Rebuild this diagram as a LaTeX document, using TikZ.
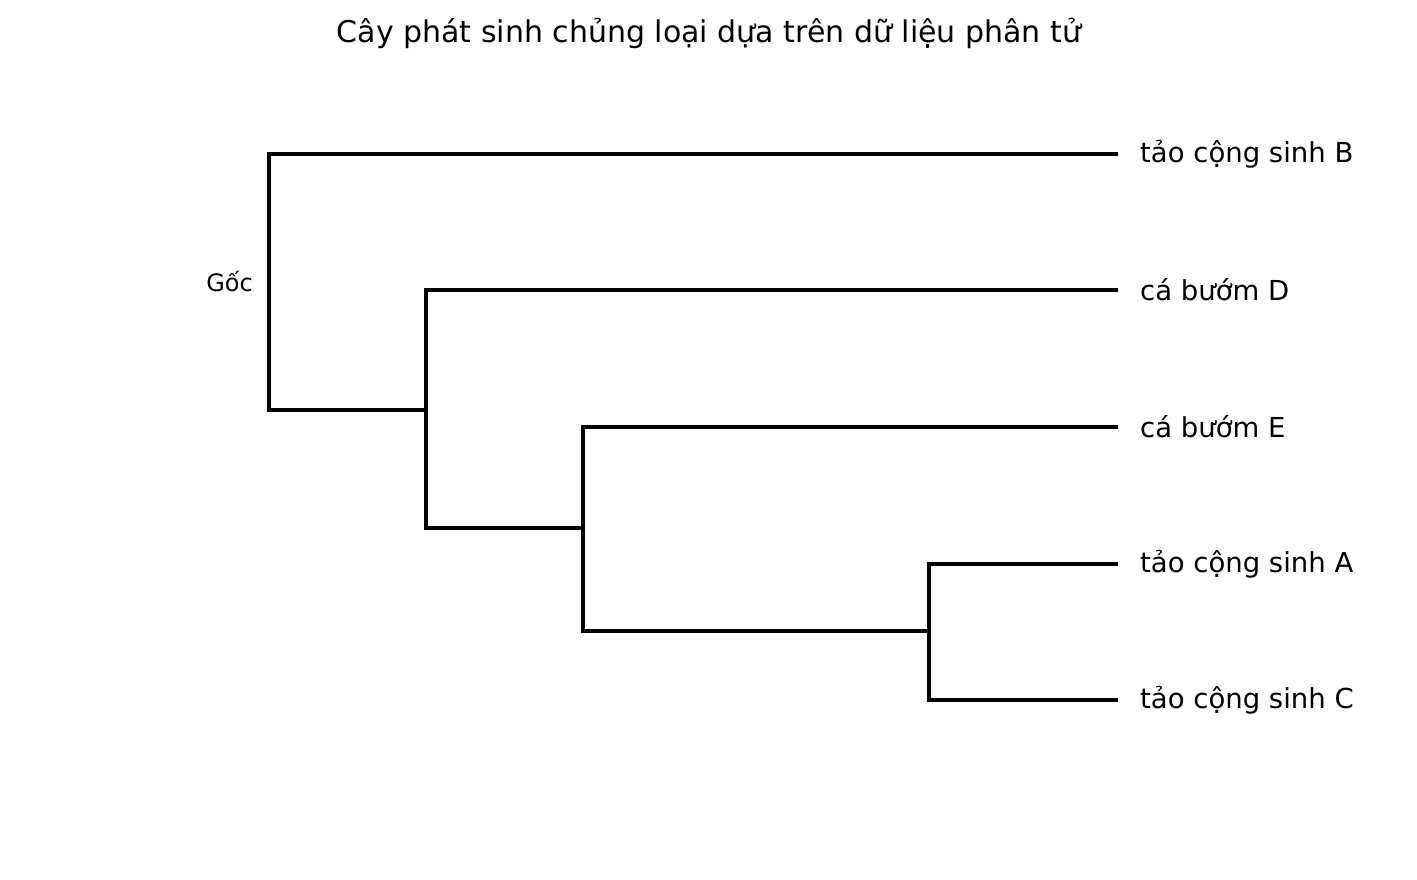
\documentclass[tikz,border=0pt]{standalone}
\usepackage{fontspec}
\setmainfont{DejaVu Sans}
\begin{document}
\begin{tikzpicture}[x=1pt,y=-1pt,
  br/.style={line width=4pt,line cap=butt,line join=miter},
  lab/.style={anchor=west,inner sep=0pt,font=\fontsize{27.5}{32}\selectfont}]
\useasboundingbox (0,0) rectangle (1417,879);
\node[font=\fontsize{30}{36}\selectfont] (title) at (709,33) {Cây phát sinh chủng loại dựa trên dữ liệu phân tử};
\node[anchor=east,inner sep=0pt,font=\fontsize{24}{28}\selectfont] (goc) at (253,282) {Gốc};
% internal coordinates
\coordinate (r) at (269,410);
\coordinate (n1) at (426,528);
\coordinate (n2) at (583,631);
\coordinate (n3) at (929,631);
% leaf ends
\coordinate (lB) at (1118,154);
\coordinate (lD) at (1118,290);
\coordinate (lE) at (1118,427);
\coordinate (lA) at (1118,564);
\coordinate (lC) at (1118,700);
\node[lab] (tB) at (1140,154) {tảo cộng sinh B};
\node[lab] (tD) at (1140,290) {cá bướm D};
\node[lab] (tE) at (1140,427) {cá bướm E};
\node[lab] (tA) at (1140,564) {tảo cộng sinh A};
\node[lab] (tC) at (1140,700) {tảo cộng sinh C};
\draw[br] (lB) -| (r) -- (r -| n1);
\draw[br] (lD) -| (n1) -- (n1 -| n2);
\draw[br] (lE) -| (n2) -- (n3);
\draw[br] (lA) -| (n3 |- lA) -- (n3 |- lC) -- (lC);
\end{tikzpicture}
\end{document}
